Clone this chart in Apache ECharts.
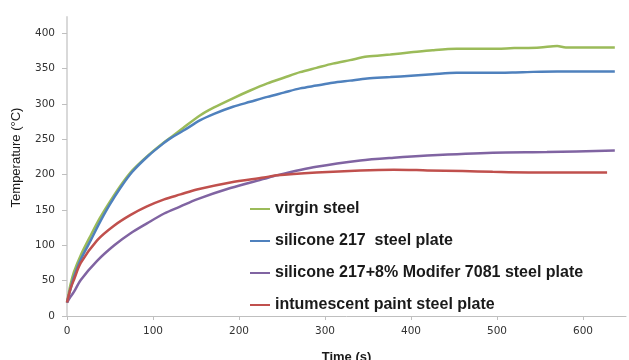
<!DOCTYPE html>
<html>
<head>
<meta charset="utf-8">
<title>Temperature curves</title>
<script src="https://cdn.jsdelivr.net/npm/echarts@6.0.0/dist/echarts.min.js"></script>
<style>
html,body{margin:0;padding:0;background:#fff;}
#main{width:629px;height:360px;}
</style>
</head>
<body>
<div id="main"></div>
<script>
// 图例名称
var names=['virgin steel','silicone 217  steel plate','silicone 217+8% Modifer 7081 steel plate','intumescent paint steel plate'];

// 坐标轴刻度
var xTicks=[0,100,200,300,400,500,600];
var yTicks=[0,50,100,150,200,250,300,350,400];

// [时间(s), 温度(°C)]
var virgin=[[0,19],[4,44],[8,62],[16,86],[28,115],[38,138],[49,160],[62,184],[76,206],[95,228],[113,246],[121,253],[135,266],[155,284],[171,295],[193,308],[213,319],[233,329],[252,337],[271,345],[290,351],[309,357],[329,362],[349,367],[376,370],[400,373],[425,376],[453,378],[492,378],[520,379],[550,380],[570,382],[580,380],[610,380],[637,380]];
var silicone=[[0,19],[4,38],[8,55],[16,80],[28,108],[38,132],[49,156],[62,181],[76,204],[95,227],[113,245],[121,252],[135,262],[155,277],[171,286],[193,296],[213,303],[233,310],[252,316],[271,322],[290,326],[309,330],[329,333],[349,336],[376,338],[400,340],[425,342],[453,344],[492,344],[530,345],[570,346],[605,346],[637,346]];
var modifier=[[0,19],[4,27],[8,34],[16,51],[35,78],[55,100],[74,117],[93,131],[113,145],[132,155],[151,165],[190,181],[229,194],[244,199],[290,211],[341,220],[380,224],[419,227],[495,231],[558,232],[637,234]];
var intumescent=[[0,19],[4,38],[8,51],[16,75],[35,107],[55,128],[74,143],[93,155],[113,165],[132,172],[151,179],[190,189],[229,196],[244,199],[290,203],[341,206],[380,207],[419,206],[460,205],[495,204],[558,203],[628,203]];

var colors=['#9bbb59','#4f81bd','#8064a2','#c0504d'];
var lists=[virgin,silicone,modifier,intumescent];

var chart={
	init:function(obj){
		var myChart=echarts.init(obj,null,{renderer:'canvas'});
		var series=[];
		for(var i=0;i<lists.length;i++){
			series.push({
				name:names[i],
				type:'line',
				data:lists[i],
				showSymbol:false,
				smooth:0.3,
				lineStyle:{width:2.5,color:colors[i]},
				itemStyle:{color:colors[i]}
			});
		}
		var option={
			animation:false,
			backgroundColor:'#fff',
			grid:{left:67,right:3,top:17,bottom:44,outerBoundsMode:'none'},
			legend:{
				orient:'vertical',
				left:250,
				top:200,
				padding:0,
				itemGap:14,
				itemWidth:20,
				itemHeight:2,
				icon:'rect',
				data:names,
				textStyle:{fontFamily:'Liberation Sans',fontWeight:'bold',fontSize:16,lineHeight:18,color:'#1a1a1a'}
			},
			xAxis:{
				type:'value',
				min:0,
				max:650,
				name:'Time (s)',
				nameLocation:'middle',
				nameGap:35,
				nameTextStyle:{fontFamily:'Liberation Sans',fontWeight:'bold',fontSize:13,color:'#1a1a1a'},
				axisLine:{lineStyle:{color:'#bfbfbf',width:1}},
				axisTick:{show:true,length:4,customValues:xTicks,lineStyle:{color:'#bfbfbf'}},
				axisLabel:{customValues:xTicks,margin:10,fontFamily:'DejaVu Sans',fontSize:10.5,color:'#333'},
				splitLine:{show:false}
			},
			yAxis:{
				type:'value',
				min:0,
				max:423,
				name:'Temperature (\u00b0C)',
				nameLocation:'middle',
				nameGap:44,
				nameRotate:90,
				nameTextStyle:{fontFamily:'Liberation Sans',fontSize:13,color:'#1a1a1a',padding:[0,0,0,18]},
				axisLine:{show:true,lineStyle:{color:'#d9d9d9',width:2}},
				axisTick:{show:true,length:5,customValues:yTicks,lineStyle:{color:'#bfbfbf'}},
				axisLabel:{customValues:yTicks,margin:12,fontFamily:'DejaVu Sans',fontSize:10.5,color:'#333'},
				splitLine:{show:false}
			},
			series:series
		};
		myChart.setOption(option);
	}
};

chart.init(document.getElementById('main'));
</script>
</body>
</html>
